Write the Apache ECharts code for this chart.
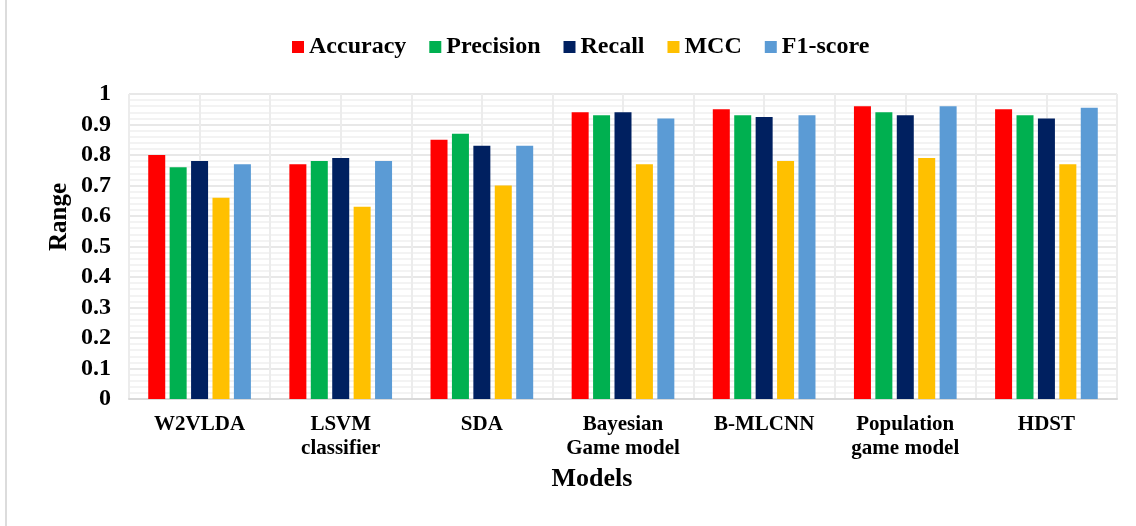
<!DOCTYPE html>
<html>
<head>
<meta charset="utf-8">
<script src="https://cdn.jsdelivr.net/npm/echarts@6/dist/echarts.min.js"></script>
<style>
  html, body { margin: 0; padding: 0; background: #fff; }
  #chart { width: 1136px; height: 526px; }
</style>
</head>
<body>
<div id="chart"></div>
<script>
// Model names on the category axis
const categories = ['W2VLDA', 'LSVM\nclassifier', 'SDA', 'Bayesian\nGame model', 'B-MLCNN', 'Population\ngame model', 'HDST'];

// Metric values per model
const accuracy  = [0.80, 0.77, 0.85, 0.94, 0.95, 0.96, 0.95];
const precision = [0.76, 0.78, 0.87, 0.93, 0.93, 0.94, 0.93];
const recall    = [0.78, 0.79, 0.83, 0.94, 0.925, 0.93, 0.92];
const mcc       = [0.66, 0.63, 0.70, 0.77, 0.78, 0.79, 0.77];
const f1score   = [0.77, 0.78, 0.83, 0.92, 0.93, 0.96, 0.955];

const seriesNames = ['Accuracy', 'Precision', 'Recall', 'MCC', 'F1-score'];
const seriesData = [accuracy, precision, recall, mcc, f1score];
const colors = ['#FF0000', '#00B050', '#002060', '#FFC000', '#5B9BD5'];

const FONT = "'Liberation Serif', 'Times New Roman', serif";

// half-category slots used only to draw the vertical grid lines
const halfSlots = categories.flatMap(() => ['', '']);

const chart = echarts.init(document.getElementById('chart'), null, { renderer: 'canvas' });

chart.setOption({
  animation: false,
  backgroundColor: '#ffffff',
  color: colors,
  legend: {
    top: 30,
    left: 287,
    itemWidth: 12,
    itemHeight: 12,
    itemGap: 23,
    icon: 'rect',
    textStyle: { fontFamily: FONT, fontWeight: 'bold', fontSize: 24, color: '#000' },
    data: seriesNames
  },
  grid: { left: 129, right: 19, top: 94, bottom: 127, containLabel: false },
  xAxis: [
    {
      type: 'category',
      data: categories,
      axisTick: { show: false },
      axisLine: { show: true, lineStyle: { color: '#d9d9d9', width: 2 } },
      splitLine: { show: false },
      axisLabel: {
        fontFamily: FONT, fontWeight: 'bold', fontSize: 21, color: '#000',
        lineHeight: 24, margin: 14, interval: 0
      }
    },
    {
      type: 'category',
      data: halfSlots,
      position: 'bottom',
      axisLine: { show: false },
      axisTick: { show: false },
      axisLabel: { show: false },
      splitLine: { show: true, interval: 0, lineStyle: { color: '#ececec', width: 2 } }
    }
  ],
  yAxis: {
    type: 'value',
    min: 0,
    max: 1,
    interval: 0.1,
    axisLine: { show: false },
    axisTick: { show: false },
    axisLabel: {
      fontFamily: FONT, fontWeight: 'bold', fontSize: 24, color: '#000', margin: 18,
      formatter: v => (v === 0 ? '0' : v === 1 ? '1' : v.toFixed(1))
    },
    splitLine: { show: true, lineStyle: { color: '#e8e8e8', width: 2 } },
    minorTick: { show: false, splitNumber: 5 },
    minorSplitLine: { show: true, lineStyle: { color: '#efefef', width: 1.5 } }
  },
  series: seriesNames.map((name, i) => ({
    name,
    type: 'bar',
    xAxisIndex: 0,
    data: seriesData[i],
    barWidth: 17,
    barGap: '26%',
    itemStyle: { color: colors[i] }
  })),
  graphic: [
    {
      type: 'line',
      shape: { x1: 6, y1: 0, x2: 6, y2: 526 },
      style: { stroke: '#dcdcdc', lineWidth: 2 }
    },
    {
      type: 'text',
      x: 60, y: 217,
      rotation: Math.PI / 2,
      style: {
        text: 'Range', fontFamily: FONT, fontWeight: 'bold', fontSize: 25,
        fill: '#000', textAlign: 'center', textVerticalAlign: 'middle'
      }
    },
    {
      type: 'text',
      x: 592, y: 479,
      style: {
        text: 'Models', fontFamily: FONT, fontWeight: 'bold', fontSize: 26,
        fill: '#000', textAlign: 'center', textVerticalAlign: 'middle'
      }
    }
  ]
});
</script>
</body>
</html>
